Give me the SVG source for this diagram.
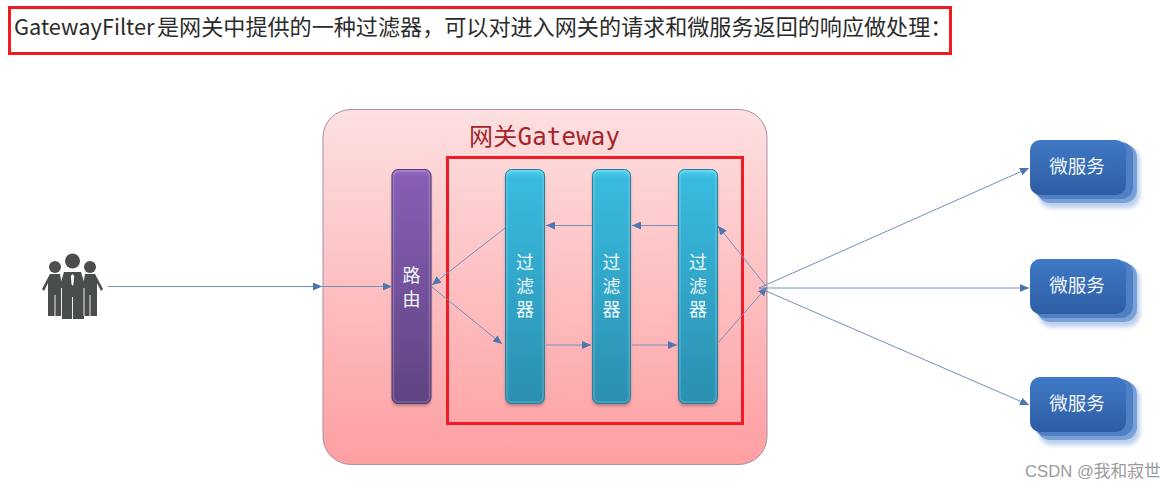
<svg xmlns="http://www.w3.org/2000/svg" width="1176" height="489" viewBox="0 0 1176 489">
<style>
.cjk{font-family:"Noto Sans CJK SC","Liberation Sans",sans-serif}
.conn{fill:none;stroke:#7390b8;stroke-width:1;marker-end:url(#arr)}
.red{fill:none;stroke:#ee1c25;stroke-width:3}
.bar{font-size:18px;fill:#eef8fb;text-anchor:middle}
.svc{font-size:18.500px;fill:#f0f6fc;text-anchor:middle}
.mid{fill:#4f80c4}
.man{fill:#4a4d4e}
.gap{stroke:#fff;stroke-width:.9;fill:none}
.shadow{fill:#7d5a60;opacity:.55;filter:url(#sh)}
.hi{fill:none;stroke:#fff;stroke-opacity:.18;stroke-width:1.500}
</style>
<defs>
<marker id="arr" markerWidth="10" markerHeight="8" refX="9" refY="4" orient="auto" markerUnits="userSpaceOnUse"><path d="M0 0L9 4L0 8Z" fill="#4f76ad"/></marker>
<linearGradient id="gw" x1="0" y1="0" x2="0" y2="1"><stop offset="0" stop-color="#fde0e1"/><stop offset="1" stop-color="#fe9fa2"/></linearGradient>
<linearGradient id="pu" x1="0" y1="0" x2="0" y2="1"><stop offset="0" stop-color="#9a70c8"/><stop offset="0.03" stop-color="#875fb5"/><stop offset="1" stop-color="#5f4382"/></linearGradient>
<linearGradient id="cy" x1="0" y1="0" x2="0" y2="1"><stop offset="0" stop-color="#55d4ee"/><stop offset="0.035" stop-color="#38bbdf"/><stop offset="1" stop-color="#2b8fb0"/></linearGradient>
<linearGradient id="bl" x1="0" y1="0" x2="0" y2="1"><stop offset="0" stop-color="#4079c6"/><stop offset="1" stop-color="#2d5da3"/></linearGradient>
<filter id="sh" x="-30%" y="-10%" width="160%" height="120%"><feGaussianBlur stdDeviation="1.800"/></filter>
<filter id="sh2" x="-20%" y="-20%" width="140%" height="140%"><feGaussianBlur stdDeviation="2"/></filter>
<g id="svcbase">
<rect x="9" y="8" width="101" height="60" rx="13" fill="#a5bfe6" opacity=".75" filter="url(#sh2)"/>
<rect x="7" y="4" width="100" height="59" rx="13" fill="#7aa0d8"/>
<rect x="4" y="2" width="99" height="57" rx="12" class="mid"/>
<rect x="0" y="0" width="96" height="55" rx="10" fill="url(#bl)"/>
</g>
</defs>
<rect width="1176" height="489" fill="#fff"/>
<g id="title">
<rect x="9.500" y="7.500" width="941" height="46" fill="#fff" class="red"/>
<text y="35" class="cjk" fill="#2b2b2b" font-size="22.100"><tspan x="14" font-size="21.800">GatewayFilter</tspan><tspan x="157">是网关中提供的一种过滤器，可以对进入网关的请求和微服务返回的响应做处理：</tspan></text>
</g>
<g id="gateway">
<rect x="323" y="109.500" width="444" height="355" rx="28" fill="url(#gw)" stroke="#a98f9f" stroke-width="1"/>
<text x="469" y="145" font-family="'DejaVu Sans Mono','Noto Sans CJK SC',monospace" font-size="24" fill="#a3262c" textLength="151">网关Gateway</text>
</g>
<g id="user">
<g class="man">
<circle cx="55" cy="267" r="6"/><circle cx="90" cy="267" r="6"/><circle cx="72.500" cy="261" r="7.500"/>
<path d="M50 274H60L62 285V316H48V283L44 291L42 289Z"/>
<path d="M95 274H85L83 285V316H97V283L101 291L103 289Z"/>
<path d="M64 272H81L85 285L84 296V319H62L61 296L60 285Z"/>
</g>
<path d="M72.500 274L70.800 276L71.500 284L72.500 286L73.500 284L74.200 276Z" fill="#fff"/>
<path class="gap" d="M72.500 297V319M55 295V316M90 295V316M61.500 288V316M84 288V316"/>
</g>
<g id="router">
<rect class="shadow" x="392" y="172" width="39" height="234" rx="6"/>
<rect x="392" y="169.500" width="39" height="234" rx="6" fill="url(#pu)" stroke="#533b73"/>
<rect class="hi" x="393.500" y="171" width="36" height="231" rx="5"/>
<text class="cjk bar"><tspan x="411.500" y="281.500">路</tspan><tspan x="411.500" y="305.500">由</tspan></text>
</g>
<g id="filter1">
<rect class="shadow" x="505.500" y="172" width="39" height="234" rx="6"/>
<rect x="505.500" y="169.500" width="39" height="234" rx="6" fill="url(#cy)" stroke="#2c7f99"/>
<rect class="hi" x="507" y="171" width="36" height="231" rx="5"/>
<text class="cjk bar"><tspan x="525" y="269">过</tspan><tspan x="525" y="292.500">滤</tspan><tspan x="525" y="316">器</tspan></text>
</g>
<g id="filter2">
<rect class="shadow" x="592.500" y="172" width="38" height="234" rx="6"/>
<rect x="592.500" y="169.500" width="38" height="234" rx="6" fill="url(#cy)" stroke="#2c7f99"/>
<rect class="hi" x="594" y="171" width="35" height="231" rx="5"/>
<text class="cjk bar"><tspan x="611.500" y="269">过</tspan><tspan x="611.500" y="292.500">滤</tspan><tspan x="611.500" y="316">器</tspan></text>
</g>
<g id="filter3">
<rect class="shadow" x="678.500" y="172" width="39" height="234" rx="6"/>
<rect x="678.500" y="169.500" width="39" height="234" rx="6" fill="url(#cy)" stroke="#2c7f99"/>
<rect class="hi" x="680" y="171" width="36" height="231" rx="5"/>
<text class="cjk bar"><tspan x="698" y="269">过</tspan><tspan x="698" y="292.500">滤</tspan><tspan x="698" y="316">器</tspan></text>
</g>
<g id="highlight"><rect x="447.500" y="157.500" width="295" height="266" class="red"/></g>
<g id="service1"><use href="#svcbase" x="1030" y="140"/><text x="1077" y="173" class="cjk svc">微服务</text></g>
<g id="service2"><use href="#svcbase" x="1030" y="259"/><text x="1077" y="292" class="cjk svc">微服务</text></g>
<g id="service3"><use href="#svcbase" x="1030" y="377"/><text x="1077" y="410" class="cjk svc">微服务</text></g>
<g id="connectors">
<path class="conn" d="M108 286.500H322"/>
<path class="conn" d="M322 286.500H392"/>
<path class="conn" d="M505 228L432 285"/>
<path class="conn" d="M432 287L502 344"/>
<path class="conn" d="M546 345H591"/>
<path class="conn" d="M632 345H677"/>
<path class="conn" d="M592 225.500H546"/>
<path class="conn" d="M678 225.500H632"/>
<path class="conn" d="M717 344L767 287"/>
<path class="conn" d="M766 286L718 226"/>
<path class="conn" d="M759 288L1029 168"/>
<path class="conn" d="M759 288H1029"/>
<path class="conn" d="M759 288L1029 405"/>
</g>
<g id="watermark"><text x="1025" y="477" font-family="'Liberation Sans','Noto Sans CJK SC',sans-serif" font-size="16.700" fill="#9a9a9a">CSDN @我和寂世</text></g>
</svg>
